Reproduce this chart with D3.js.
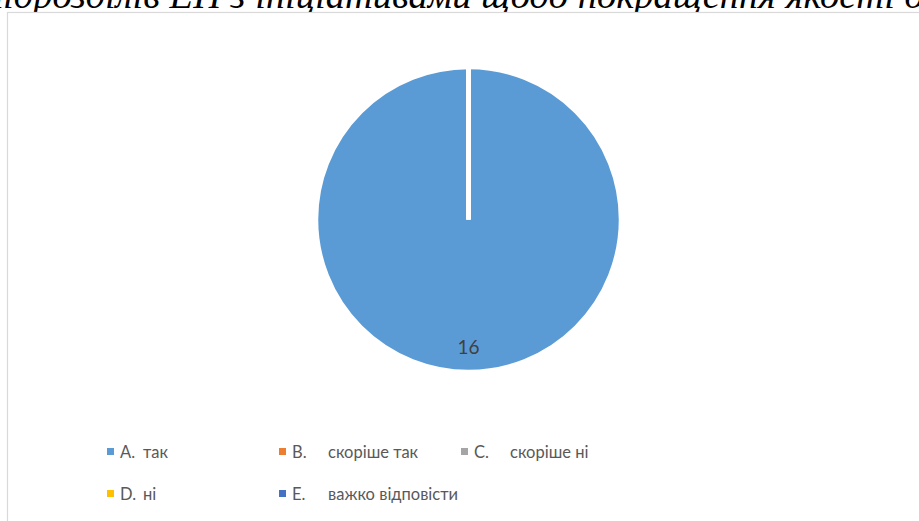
<!DOCTYPE html>
<html>
<head>
<meta charset="utf-8">
<script src="https://cdn.jsdelivr.net/npm/d3@7"></script>
<style>
  html, body { margin: 0; padding: 0; background: #fff; }
  svg { display: block; }
</style>
</head>
<body>
<div id="chart"></div>
<script>
// ---- data ----
const titlePrefix = "підрозділів ";
const titleText = "підрозділів ЕП з ініціативами щодо покращення якості освіти";
const letters = ["A.", "B.", "C.", "D.", "E."];
const categories = ["так", "скоріше так", "скоріше ні", "ні", "важко відповісти"];
const values = [16, 0, 0, 0, 0];
const colors = ["#5B9BD5", "#ED7D31", "#A5A5A5", "#FFC000", "#4472C4"];

const W = 919, H = 521;
const svg = d3.select("#chart").append("svg")
  .attr("width", W).attr("height", H);

// title (partially cut at the top, as in the reference)
const titleFont = { family: "'Liberation Serif', 'Times New Roman', serif", size: 38.5 };
const probe = svg.append("text")
  .attr("font-family", titleFont.family).attr("font-style", "italic")
  .attr("font-size", titleFont.size).attr("visibility", "hidden")
  .text(titlePrefix);
const prefixW = probe.node().getComputedTextLength();
probe.remove();

svg.append("text")
  .attr("x", 160 - prefixW).attr("y", 8)
  .attr("font-family", titleFont.family)
  .attr("font-style", "italic")
  .attr("font-size", titleFont.size)
  .attr("fill", "#000")
  .text(titleText);

// chart frame
svg.append("rect")
  .attr("x", 7.5).attr("y", 12.5)
  .attr("width", 960).attr("height", 560)
  .attr("fill", "#fff")
  .attr("stroke", "#d9d9d9")
  .attr("stroke-width", 1.2);

// pie
const cx = 468.5, cy = 219.5, r = 152.5;
const g = svg.append("g").attr("transform", `translate(${cx},${cy})`);

const data = categories.map((c, i) => ({ cat: c, letter: letters[i], value: values[i], color: colors[i] }));
const pie = d3.pie().sort(null).value(d => d.value);
const arcs = pie(data);
const arc = d3.arc().innerRadius(0).outerRadius(r);
const labelArc = d3.arc().innerRadius(r * 0.84).outerRadius(r * 0.84);

g.selectAll("path.slice")
  .data(arcs)
  .join("path")
  .attr("class", "slice")
  .attr("d", arc)
  .attr("fill", d => d.data.color)
  .attr("stroke", "#fff")
  .attr("stroke-width", 4.5)
  .attr("stroke-linejoin", "miter");

g.selectAll("text.lbl")
  .data(arcs.filter(d => d.data.value > 0))
  .join("text")
  .attr("class", "lbl")
  .attr("transform", d => `translate(${labelArc.centroid(d)})`)
  .attr("text-anchor", "middle")
  .attr("dy", "0.35em")
  .attr("font-family", "Lato, 'Open Sans', sans-serif")
  .attr("font-size", 19)
  .attr("fill", "#404040")
  .text(d => d.data.value);

// legend
const colX = [107, 279, 461];
const rowY = [452, 494];
const legend = svg.append("g");
const items = legend.selectAll("g.item")
  .data(data)
  .join("g")
  .attr("class", "item")
  .attr("transform", (d, i) => `translate(${colX[i < 3 ? i : i - 3]},${rowY[i < 3 ? 0 : 1]})`);

items.append("rect")
  .attr("x", 0).attr("y", -4)
  .attr("width", 7).attr("height", 7)
  .attr("fill", d => d.color);

items.append("text")
  .attr("x", 13).attr("y", 0).attr("dy", "0.35em")
  .attr("font-family", "Lato, 'Open Sans', sans-serif")
  .attr("font-size", 16.5)
  .attr("fill", "#595959")
  .text(d => d.letter);

items.append("text")
  .attr("x", (d, i) => i === 0 || i === 3 ? 36 : 49)
  .attr("y", 0).attr("dy", "0.35em")
  .attr("font-family", "Lato, 'Open Sans', sans-serif")
  .attr("font-size", 16.5)
  .attr("fill", "#595959")
  .text(d => d.cat);
</script>
</body>
</html>
